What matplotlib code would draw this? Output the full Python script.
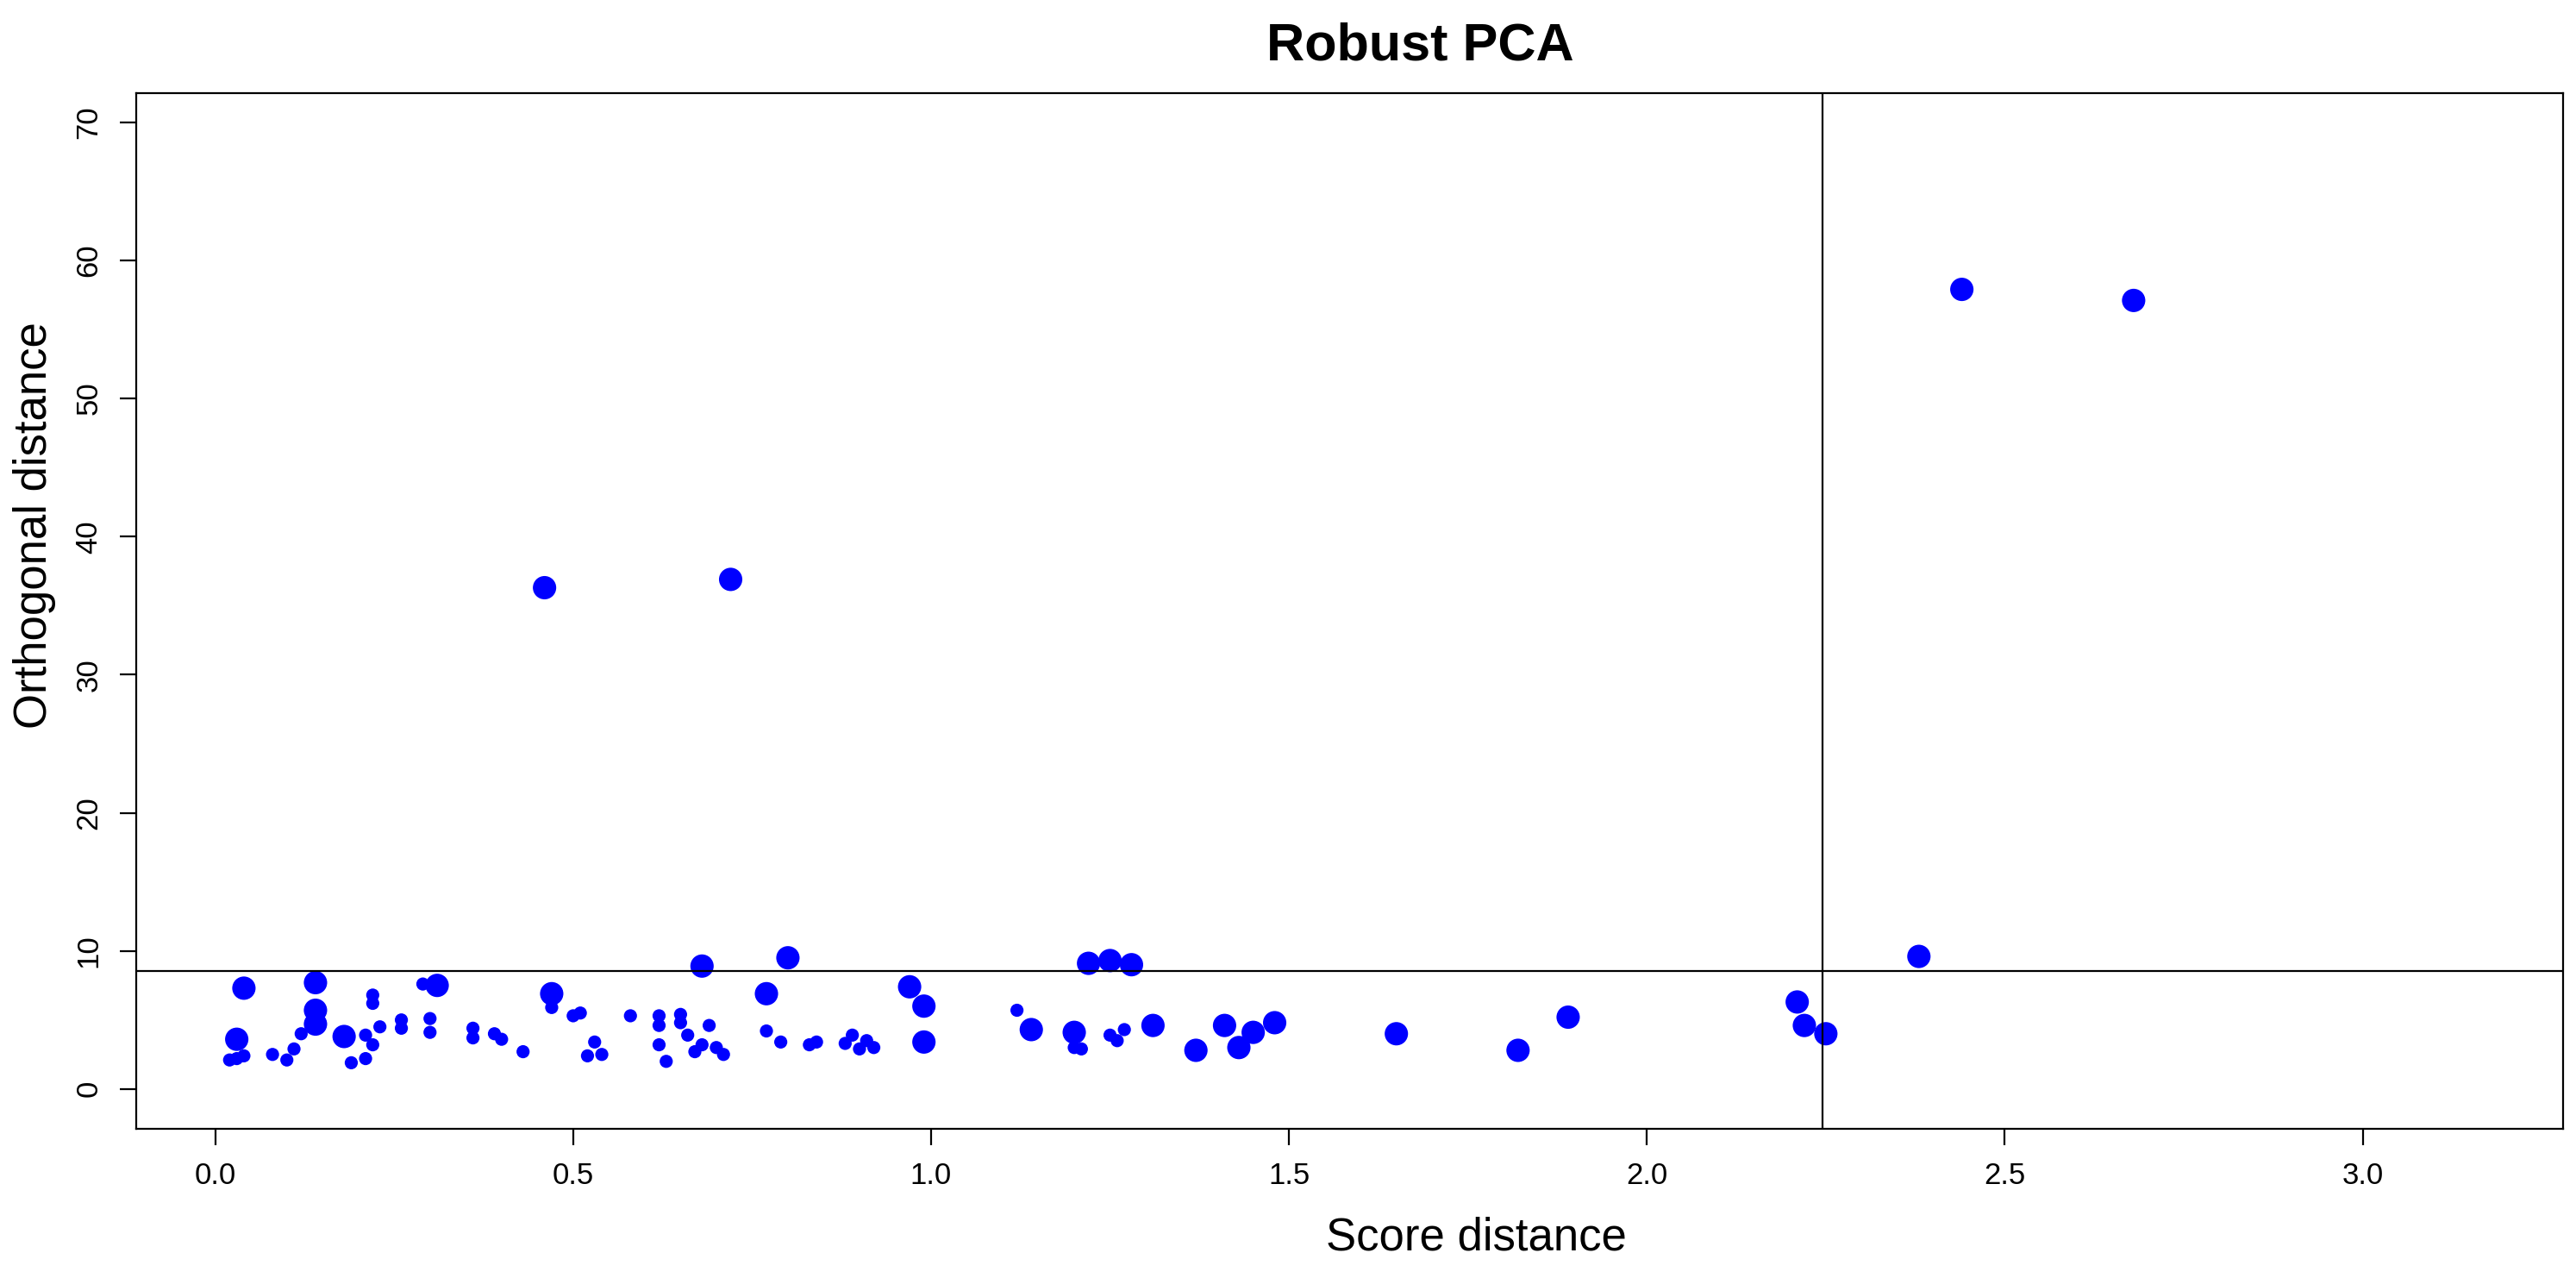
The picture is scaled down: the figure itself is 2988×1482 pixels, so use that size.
import matplotlib.pyplot as plt

plt.rcParams['font.family'] = ['Liberation Sans', 'DejaVu Sans']

# larger points
big_x = [0.03, 0.04, 0.14, 0.14, 0.14, 0.18, 0.31, 0.47, 0.46, 0.72, 0.68, 0.80, 0.77,
         0.97, 0.99, 0.99, 1.14, 1.20, 1.22, 1.25, 1.28, 1.31, 1.37, 1.41, 1.43, 1.45,
         1.48, 1.65, 1.82, 1.89, 2.21, 2.22, 2.25, 2.38, 2.44, 2.68]
big_y = [3.6, 7.3, 7.7, 5.7, 4.7, 3.8, 7.5, 6.9, 36.3, 36.9, 8.9, 9.5, 6.9,
         7.4, 6.0, 3.4, 4.3, 4.1, 9.1, 9.3, 9.0, 4.6, 2.8, 4.6, 3.0, 4.1,
         4.8, 4.0, 2.8, 5.2, 6.3, 4.6, 4.0, 9.6, 57.9, 57.1]

# smaller points
small_x = [0.02, 0.03, 0.04, 0.08, 0.10, 0.11, 0.12, 0.19, 0.21, 0.21, 0.22, 0.22, 0.22,
           0.23, 0.26, 0.26, 0.29, 0.30, 0.30, 0.36, 0.36, 0.39, 0.40, 0.43, 0.47, 0.50,
           0.51, 0.52, 0.53, 0.54, 0.58, 0.62, 0.62, 0.62, 0.63, 0.65, 0.65, 0.66, 0.67,
           0.68, 0.69, 0.70, 0.71, 0.77, 0.79, 0.83, 0.84, 0.88, 0.89, 0.90, 0.91, 0.92,
           1.12, 1.20, 1.21, 1.25, 1.26, 1.27]
small_y = [2.1, 2.2, 2.4, 2.5, 2.1, 2.9, 4.0, 1.9, 2.2, 3.9, 3.2, 6.2, 6.8,
           4.5, 4.4, 5.0, 7.6, 4.1, 5.1, 3.7, 4.4, 4.0, 3.6, 2.7, 5.9, 5.3,
           5.5, 2.4, 3.4, 2.5, 5.3, 4.6, 5.3, 3.2, 2.0, 5.4, 4.8, 3.9, 2.7,
           3.2, 4.6, 3.0, 2.5, 4.2, 3.4, 3.2, 3.4, 3.3, 3.9, 2.9, 3.5, 3.0,
           5.7, 3.0, 2.9, 3.9, 3.5, 4.3]

cutoff_sd = 2.245
cutoff_od = 8.57

fig = plt.figure(figsize=(29.88, 14.82), dpi=100)
ax = fig.add_axes([0.053, 0.117, 0.942, 0.81])

ax.scatter(small_x, small_y, s=120, color='#0000ff', edgecolors='none')
ax.scatter(big_x, big_y, s=380, color='#0000ff', edgecolors='none')
ax.axvline(cutoff_sd, color='black', lw=1.6)
ax.axhline(cutoff_od, color='black', lw=1.6)

ax.set_xlim(-0.11, 3.28)
ax.set_ylim(-2.86, 72.1)
ax.set_xticks([0.0, 0.5, 1.0, 1.5, 2.0, 2.5, 3.0])
ax.set_xticklabels(['0.0', '0.5', '1.0', '1.5', '2.0', '2.5', '3.0'])
ax.set_yticks([0, 10, 20, 30, 40, 50, 60, 70])
ax.tick_params(labelsize=25, length=14, width=1.6, pad=14)
for lab in ax.get_yticklabels():
    lab.set_rotation(90)
    lab.set_va('center')
for s in ax.spines.values():
    s.set_linewidth(1.6)

ax.set_xlabel('Score distance', fontsize=38, labelpad=22)
ax.xaxis.set_label_coords(0.552, -0.085)
ax.set_ylabel('Orthogonal distance', fontsize=38, labelpad=16)
ax.yaxis.set_label_coords(-0.033, 0.583)
ax.set_title('Robust PCA', fontsize=44, fontweight='bold', pad=28, x=0.529)

fig.savefig('out.png', dpi=100)
